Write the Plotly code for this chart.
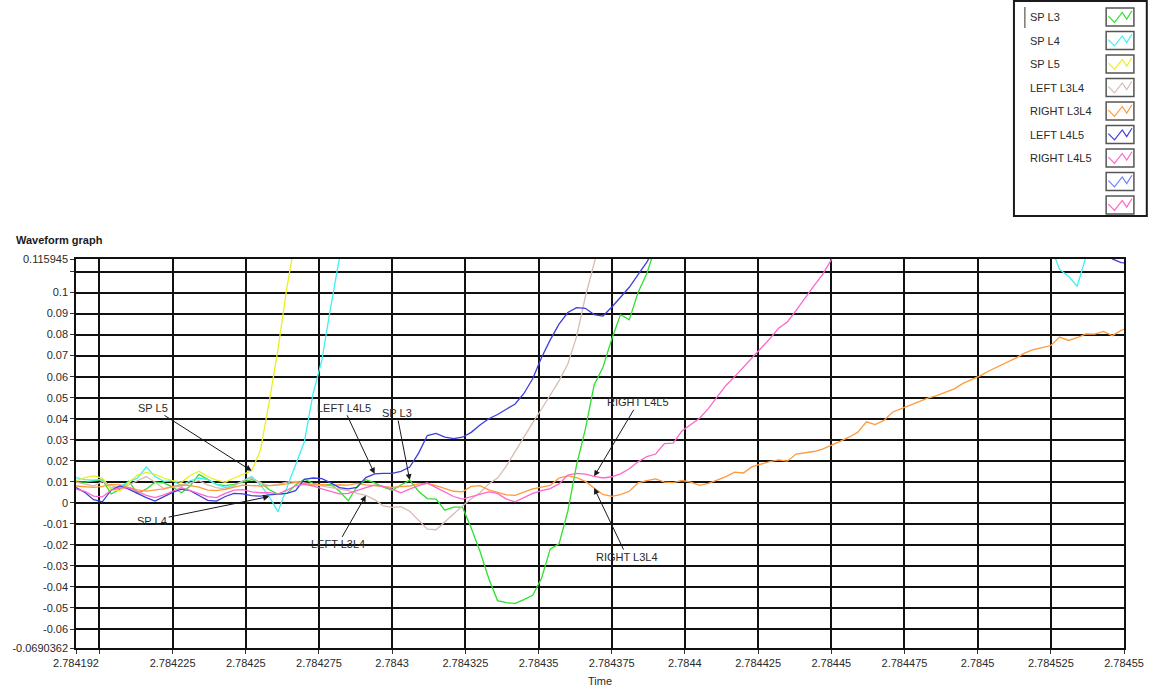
import numpy as np
import plotly.graph_objects as go

# Waveform timing: every channel shares t0 and dt
T0 = 2.784192
DT = 0.000003
T_END = 2.78455

# Channel samples (None = trace is off scale and its value is not shown)
sp_l3 = [0.0100, 0.0098, 0.0105, 0.0110, 0.0042, 0.0065, 0.0103, 0.0045, 0.0065, 0.0098,
         0.0095, 0.0075, 0.0048, 0.0080, 0.0135, 0.0110, 0.0088, 0.0082, 0.0088, 0.0098,
         0.0110, 0.0098, 0.0062, 0.0042, 0.0045, 0.0085, 0.0112, 0.0093, 0.0084, 0.0088,
         0.0055, 0.0010, 0.0078, 0.0110, 0.0095, 0.0075, 0.0060, 0.0085, 0.0108, 0.0055,
         0.0020, 0.0018, -0.0035, -0.0020, -0.0020, -0.0120, -0.0230, -0.0360, -0.0465, -0.0475,
         -0.0478, -0.0460, -0.0440, -0.0360, -0.0220, -0.0195, -0.0040, 0.0180, 0.0350, 0.0560,
         0.0645, 0.0778, 0.0895, 0.0870, 0.1000, 0.1090, 0.1220]

sp_l4 = ([0.0120, 0.0110, 0.0108, 0.0112, 0.0070, 0.0078, 0.0098, 0.0118, 0.0170, 0.0125,
          0.0102, 0.0105, 0.0082, 0.0105, 0.0118, 0.0110, 0.0088, 0.0073, 0.0079, 0.0105,
          0.0125, 0.0085, 0.0030, -0.0042, 0.0070, 0.0180, 0.0290, 0.0520, 0.0680, 0.0930,
          0.1165, 0.1400]
         + [None] * 79
         + [0.1220, 0.1110, 0.1078, 0.1030, 0.1170, 0.1300])

sp_l5 = [0.0105, 0.0120, 0.0128, 0.0118, 0.0065, 0.0056, 0.0095, 0.0132, 0.0145, 0.0135,
         0.0118, 0.0105, 0.0098, 0.0130, 0.0150, 0.0125, 0.0108, 0.0098, 0.0118, 0.0135,
         0.0152, 0.0250, 0.0480, 0.0730, 0.1020, 0.1260]

left_l3l4 = [0.0098, 0.0088, 0.0080, 0.0102, 0.0082, 0.0072, 0.0085, 0.0105, 0.0125, 0.0098,
             0.0068, 0.0075, 0.0078, 0.0095, 0.0105, 0.0085, 0.0072, 0.0065, 0.0082, 0.0105,
             0.0118, 0.0095, 0.0082, 0.0088, 0.0098, 0.0102, 0.0095, 0.0088, 0.0082, 0.0072,
             0.0068, 0.0058, 0.0045, 0.0035, 0.0015, -0.0015, -0.0022, -0.0018, -0.0040, -0.0085,
             -0.0125, -0.0128, -0.0090, -0.0055, -0.0015, 0.0018, 0.0048, 0.0090, 0.0118, 0.0175,
             0.0245, 0.0310, 0.0380, 0.0445, 0.0515, 0.0580, 0.0660, 0.0790, 0.0980, 0.1130,
             0.1300]

right_l3l4 = [0.0080, 0.0078, 0.0073, 0.0078, 0.0088, 0.0085, 0.0075, 0.0062, 0.0056, 0.0060,
              0.0066, 0.0078, 0.0085, 0.0082, 0.0075, 0.0060, 0.0058, 0.0064, 0.0074, 0.0084,
              0.0082, 0.0080, 0.0082, 0.0084, 0.0090, 0.0097, 0.0092, 0.0084, 0.0088, 0.0082,
              0.0086, 0.0084, 0.0092, 0.0085, 0.0082, 0.0078, 0.0073, 0.0077, 0.0080, 0.0090,
              0.0092, 0.0082, 0.0070, 0.0055, 0.0052, 0.0078, 0.0082, 0.0062, 0.0050, 0.0038,
              0.0035, 0.0052, 0.0066, 0.0075, 0.0083, 0.0118, 0.0128, 0.0120, 0.0102, 0.0070,
              0.0040, 0.0031, 0.0039, 0.0055, 0.0095, 0.0106, 0.0114, 0.0098, 0.0096, 0.0106,
              0.0098, 0.0083, 0.0092, 0.0108, 0.0125, 0.0146, 0.0142, 0.0172, 0.0184, 0.0196,
              0.0204, 0.0198, 0.0232, 0.0237, 0.0244, 0.0255, 0.0272, 0.0292, 0.0312, 0.0335,
              0.0385, 0.0372, 0.0392, 0.0432, 0.0448, 0.0465, 0.0483, 0.0498, 0.0510, 0.0526,
              0.0542, 0.0568, 0.0585, 0.0605, 0.0628, 0.0648, 0.0668, 0.0688, 0.0712, 0.0728,
              0.0738, 0.0748, 0.0788, 0.0772, 0.0785, 0.0803, 0.0802, 0.0815, 0.0795, 0.0820,
              0.0835]

left_l4l5 = ([0.0073, 0.0050, 0.0015, 0.0005, 0.0060, 0.0080, 0.0065, 0.0043, 0.0025, 0.0008,
              0.0028, 0.0050, 0.0065, 0.0058, 0.0035, 0.0012, 0.0008, 0.0030, 0.0045, 0.0043,
              0.0034, 0.0032, 0.0038, 0.0040, 0.0045, 0.0058, 0.0112, 0.0118, 0.0115, 0.0095,
              0.0072, 0.0066, 0.0073, 0.0120, 0.0138, 0.0140, 0.0140, 0.0150, 0.0170, 0.0235,
              0.0320, 0.0330, 0.0312, 0.0305, 0.0312, 0.0335, 0.0370, 0.0400, 0.0420, 0.0445,
              0.0470, 0.0520, 0.0590, 0.0690, 0.0775, 0.0850, 0.0905, 0.0928, 0.0925, 0.0895,
              0.0888, 0.0930, 0.0980, 0.1025, 0.1085, 0.1145, 0.1220]
             + [None] * 50
             + [0.1250, 0.1160, 0.1142, 0.1140])

right_l4l5 = [0.0065, 0.0055, 0.0032, 0.0028, 0.0060, 0.0070, 0.0072, 0.0052, 0.0035, 0.0025,
              0.0038, 0.0055, 0.0072, 0.0058, 0.0042, 0.0029, 0.0025, 0.0045, 0.0060, 0.0063,
              0.0052, 0.0048, 0.0048, 0.0042, 0.0060, 0.0081, 0.0088, 0.0080, 0.0066, 0.0055,
              0.0043, 0.0045, 0.0060, 0.0072, 0.0084, 0.0078, 0.0065, 0.0048, 0.0065, 0.0082,
              0.0094, 0.0072, 0.0052, 0.0030, 0.0018, 0.0030, 0.0042, 0.0052, 0.0045, 0.0018,
              0.0005, 0.0025, 0.0045, 0.0058, 0.0068, 0.0090, 0.0132, 0.0140, 0.0136, 0.0126,
              0.0118, 0.0124, 0.0138, 0.0162, 0.0195, 0.0220, 0.0232, 0.0282, 0.0284, 0.0342,
              0.0370, 0.0402, 0.0448, 0.0505, 0.0558, 0.0600, 0.0645, 0.0688, 0.0730, 0.0780,
              0.0830, 0.0860, 0.0915, 0.0975, 0.1030, 0.1085, 0.1155, 0.1240]

channel_names = ["SP L3", "SP L4", "SP L5", "LEFT L3L4", "RIGHT L3L4", "LEFT L4L5", "RIGHT L4L5"]
channel_data = [sp_l3, sp_l4, sp_l5, left_l3l4, right_l3l4, left_l4l5, right_l4l5]
channel_colors = ["#2fe02f", "#3ff0f0", "#ecef1e", "#d6bdb3", "#ff9a3c", "#3d3de0", "#ff66cc"]
# two unnamed plots in the legend
spare_colors = ["#6f80ff", "#ff5fc4"]

# Axis ticks
y_tick_vals = [-0.0690362, -0.06, -0.05, -0.04, -0.03, -0.02, -0.01, 0.0,
               0.01, 0.02, 0.03, 0.04, 0.05, 0.06, 0.07, 0.08, 0.09, 0.1, 0.11, 0.115945]
y_tick_text = ["-0.0690362", "-0.06", "-0.05", "-0.04", "-0.03", "-0.02", "-0.01", "0",
               "0.01", "0.02", "0.03", "0.04", "0.05", "0.06", "0.07", "0.08", "0.09", "0.1", "", "0.115945"]
x_tick_vals = [2.784192, 2.7842, 2.784225, 2.78425, 2.784275, 2.7843, 2.784325, 2.78435,
               2.784375, 2.7844, 2.784425, 2.78445, 2.784475, 2.7845, 2.784525, 2.78455]
x_tick_text = ["2.784192", "", "2.784225", "2.78425", "2.784275", "2.7843", "2.784325", "2.78435",
               "2.784375", "2.7844", "2.784425", "2.78445", "2.784475", "2.7845", "2.784525", "2.78455"]

# Cursor notes: (text, channel, sample index, text offset in px)
notes = [("SP L5", "SP L5", 20, -99, -63),
         ("SP L4", "SP L4", 22, -117, 24),
         ("LEFT L4L5", "LEFT L4L5", 34, -31, -66),
         ("SP L3", "SP L3", 38, -13, -67),
         ("LEFT L3L4", "LEFT L3L4", 33, -28, 49),
         ("RIGHT L4L5", "RIGHT L4L5", 59, 44, -74),
         ("RIGHT L3L4", "RIGHT L3L4", 59, 33, 69)]

FONT = "Liberation Sans, Arial, sans-serif"
W, H = 1156, 687
ML, MR, MT, MB = 73, 26, 259, 39
PW, PH = W - ML - MR, H - MT - MB


def px(xp):
    return (xp - ML) / PW


def py(yp):
    return (H - MB - yp) / PH


def times(n):
    return T0 + DT * np.arange(n)


fig = go.Figure()
for name, vals, col in zip(channel_names, channel_data, channel_colors):
    fig.add_trace(go.Scatter(x=times(len(vals)), y=vals, mode="lines", name=name,
                             line=dict(color=col, width=1.3), connectgaps=False,
                             hoverinfo="skip"))

annotations = []
for text, ch, idx, ax, ay in notes:
    vals = channel_data[channel_names.index(ch)]
    annotations.append(dict(x=T0 + DT * idx, y=vals[idx], xref="x", yref="y",
                            text=text, showarrow=True, arrowhead=2, arrowsize=1.2,
                            arrowwidth=1, arrowcolor="#1a1a1a", ax=ax, ay=ay,
                            font=dict(family=FONT, size=11, color="#2a2a2a")))

# graph caption and axis name
annotations.append(dict(x=px(10), y=py(240), xref="paper", yref="paper", xanchor="left",
                        yanchor="middle", text="<b>Waveform graph</b>", showarrow=False,
                        font=dict(family=FONT, size=11, color="#1a1a1a")))
annotations.append(dict(x=0.5, y=py(681), xref="paper", yref="paper", xanchor="center",
                        yanchor="middle", text="Time", showarrow=False,
                        font=dict(family=FONT, size=11, color="#2a2a2a")))

# Plot legend panel (top right)
shapes = [dict(type="rect", xref="paper", yref="paper", x0=px(1019), x1=px(1153),
               y0=py(216), y1=py(1), line=dict(color="#1a1a1a", width=2), fillcolor="white"),
          dict(type="line", xref="paper", yref="paper", x0=px(1030), x1=px(1030),
               y0=py(7), y1=py(28), line=dict(color="#777", width=1.5))]
legend_colors = channel_colors + spare_colors
legend_labels = channel_names + ["", ""]
zig = [(0.08, 0.45), (0.30, 0.80), (0.58, 0.25), (0.74, 0.62), (0.93, 0.15)]
for k, (lab, col) in enumerate(zip(legend_labels, legend_colors)):
    top = 8 + 23.5 * k
    bx0, bx1, by0, by1 = 1112, 1140, top, top + 18
    shapes.append(dict(type="rect", xref="paper", yref="paper", x0=px(bx0), x1=px(bx1),
                       y0=py(by1), y1=py(by0), line=dict(color="#555", width=1.5),
                       fillcolor="white"))
    pts = [(px(bx0 + fx * (bx1 - bx0)), py(by0 + fy * (by1 - by0))) for fx, fy in zig]
    path = "M " + " L ".join(f"{a:.5f},{b:.5f}" for a, b in pts)
    shapes.append(dict(type="path", xref="paper", yref="paper", path=path,
                       line=dict(color=col, width=1.2)))
    if lab:
        annotations.append(dict(x=px(1033), y=py(top + 9), xref="paper", yref="paper",
                                xanchor="left", yanchor="middle", text=lab, showarrow=False,
                                font=dict(family=FONT, size=11, color="#2a2a2a")))

axis_common = dict(showline=True, linecolor="#111", linewidth=1.5, mirror=True,
                   showgrid=True, gridcolor="#111111", gridwidth=1.5, zeroline=False,
                   ticks="outside", ticklen=4, tickcolor="#333",
                   tickfont=dict(family=FONT, size=11, color="#2a2a2a"))

fig.update_layout(
    width=W, height=H,
    margin=dict(l=ML, r=MR, t=MT, b=MB, pad=0),
    paper_bgcolor="white", plot_bgcolor="white",
    showlegend=False,
    font=dict(family=FONT, size=11, color="#2a2a2a"),
    xaxis=dict(range=[T0, T_END], tickmode="array", tickvals=x_tick_vals,
               ticktext=x_tick_text, **axis_common),
    yaxis=dict(range=[y_tick_vals[0], y_tick_vals[-1]], tickmode="array",
               tickvals=y_tick_vals, ticktext=y_tick_text, **axis_common),
    annotations=annotations,
    shapes=shapes,
)

fig.write_html("out.html")
